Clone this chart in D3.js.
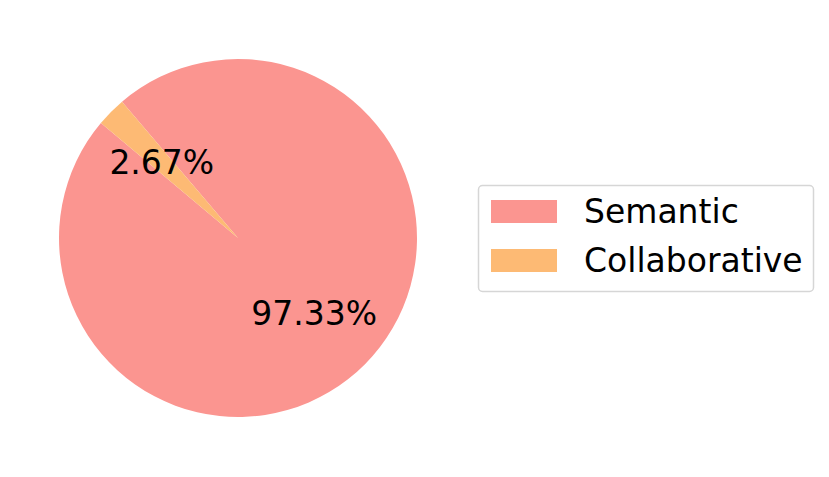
<!DOCTYPE html>
<html>
<head>
<meta charset="utf-8">
<script src="https://cdn.jsdelivr.net/npm/d3@7"></script>
<style>
  body { margin: 0; background: #fff; }
  text { font-family: "DejaVu Sans", sans-serif; }
</style>
</head>
<body>
<div id="chart"></div>
<script>
const labels = ["Semantic", "Collaborative"]
const values = [97.33, 2.67]
const colors = ["#fb9590", "#fdba74"]

const width = 829, height = 477
const cx = 238, cy = 238, radius = 179

const svg = d3.select("#chart").append("svg")
    .attr("width", width)
    .attr("height", height)

// matplotlib style: start at 140deg (math), counter-clockwise
const start = (90 - 140) * Math.PI / 180
const pie = d3.pie().sort(null)
    .startAngle(start)
    .endAngle(start - 2 * Math.PI)
const arcs = pie(values)

const arc = d3.arc().innerRadius(0).outerRadius(radius)
const labelArc = d3.arc().innerRadius(radius * 0.6).outerRadius(radius * 0.6)

const g = svg.append("g").attr("transform", "translate(" + cx + "," + cy + ")")

g.selectAll("path")
    .data(arcs)
    .enter().append("path")
    .attr("d", arc)
    .attr("fill", (d, i) => colors[i])

g.selectAll("text")
    .data(arcs)
    .enter().append("text")
    .attr("transform", d => "translate(" + labelArc.centroid(d) + ")")
    .attr("text-anchor", "middle")
    .attr("dominant-baseline", "central")
    .attr("font-size", 33)
    .attr("fill", "#000")
    .text(d => d.data.toFixed(2) + "%")

// legend
const legend = svg.append("g")
legend.append("rect")
    .attr("x", 478.5).attr("y", 185.5)
    .attr("width", 335).attr("height", 106)
    .attr("rx", 4)
    .attr("fill", "#fff")
    .attr("stroke", "#d6d6d6")
    .attr("stroke-width", 1.5)

const row = d3.scaleLinear().domain([0, 1]).range([211.5, 260.5])
const items = legend.selectAll("g.item")
    .data(labels)
    .enter().append("g")
    .attr("class", "item")
    .attr("transform", (d, i) => "translate(0," + row(i) + ")")
items.append("rect")
    .attr("x", 491).attr("y", -11.5)
    .attr("width", 66).attr("height", 23)
    .attr("fill", (d, i) => colors[i])
items.append("text")
    .attr("x", 584)
    .attr("dominant-baseline", "central")
    .attr("font-size", 33)
    .attr("fill", "#000")
    .text(d => d)
</script>
</body>
</html>
